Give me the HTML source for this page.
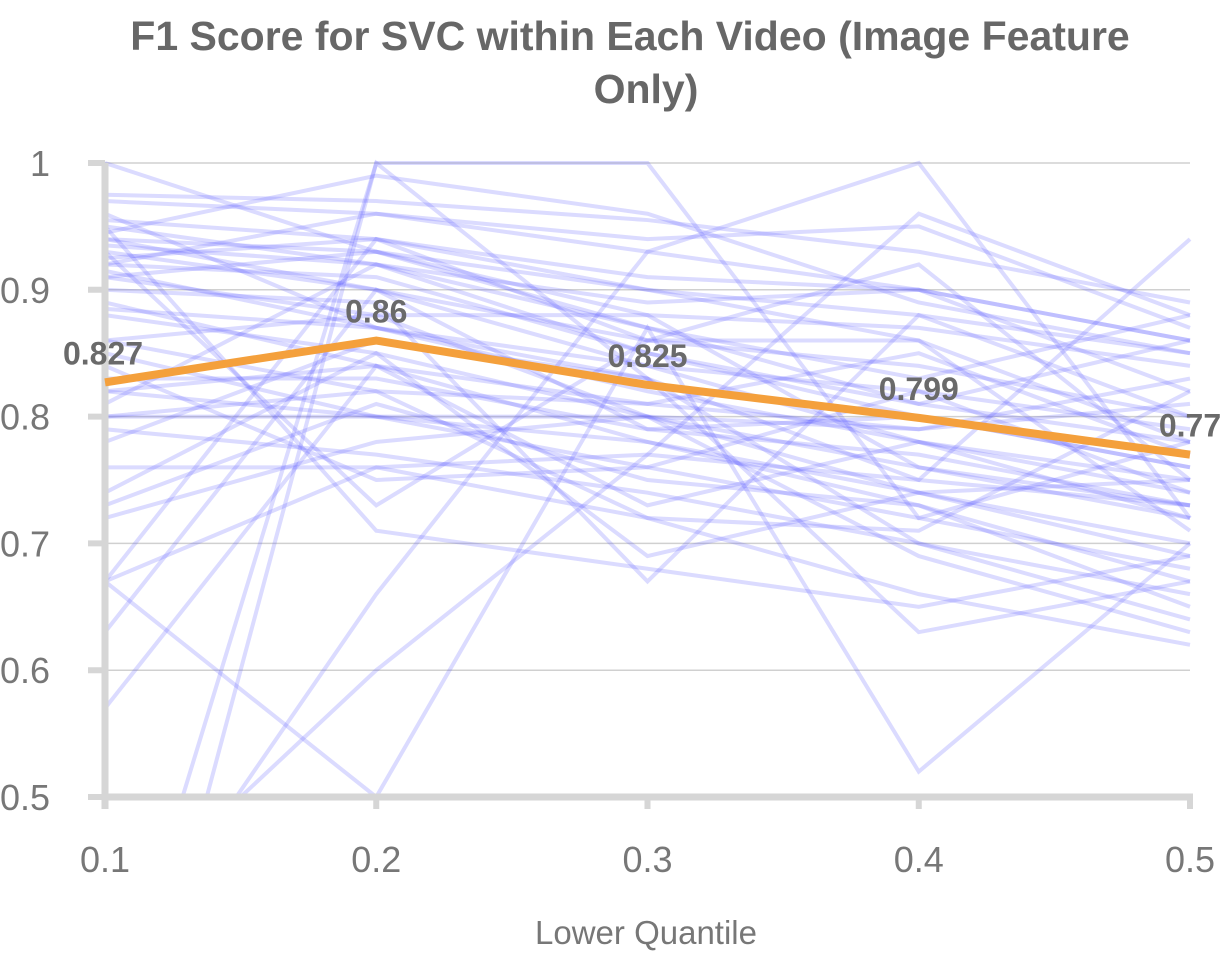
<!DOCTYPE html>
<html><head><meta charset="utf-8">
<style>
html,body{margin:0;padding:0;background:#fff;width:1224px;height:956px;overflow:hidden;}
svg{display:block;}
svg text{font-family:"Liberation Sans Narrow","Liberation Sans",sans-serif;}
</style></head>
<body>
<svg id="chart" width="1224" height="956">
<text x="630" y="50" text-anchor="middle" font-size="41" font-weight="bold" fill="#676767">F1 Score for SVC within Each Video (Image Feature</text>
<text x="646" y="103" text-anchor="middle" font-size="41" font-weight="bold" fill="#676767">Only)</text>
<text x="646" y="944" text-anchor="middle" font-size="33" fill="#777">Lower Quantile</text>
<defs><clipPath id="plot"><rect x="103" y="150" width="1120" height="647"/></clipPath></defs>
<g id="grid"></g>
<g id="lines" clip-path="url(#plot)"></g>
<g id="axes"></g>
<g id="avg"></g>
</svg>
<script>
const categories=[0.1,0.2,0.3,0.4,0.5];
const yTicks=[0.5,0.6,0.7,0.8,0.9,1];
const yTickLabels=["0.5","0.6","0.7","0.8","0.9","1"];
const averageValues=[0.827,0.86,0.825,0.799,0.77];
const averageLabels=["0.827","0.86","0.825","0.799","0.77"];
const s01=[1.0,0.93,0.90,0.88,0.85];
const s02=[0.975,0.97,0.955,0.93,0.89];
const s03=[0.97,0.96,0.94,0.95,0.87];
const s04=[0.955,0.94,0.91,0.90,0.86];
const s05=[0.945,0.99,0.96,0.89,0.85];
const s06=[0.94,0.93,0.88,0.87,0.84];
const s07=[0.935,0.92,0.89,0.90,0.82];
const s08=[0.93,0.90,0.86,0.84,0.80];
const s09=[0.925,0.94,0.90,0.86,0.78];
const s10=[0.92,0.91,0.85,0.80,0.76];
const s11=[0.915,0.87,0.84,0.82,0.74];
const s12=[0.91,0.93,0.87,0.83,0.88];
const s13=[0.885,0.87,0.82,0.78,0.75];
const s14=[0.88,0.85,0.80,0.76,0.72];
const s15=[0.86,0.82,0.81,0.79,0.83];
const s16=[0.85,0.80,0.78,0.74,0.70];
const s17=[0.83,0.83,0.79,0.77,0.73];
const s18=[0.82,0.80,0.76,0.72,0.68];
const s19=[0.81,0.92,0.85,0.81,0.86];
const s20=[0.80,0.80,0.80,0.79,0.81];
const s21=[0.79,0.77,0.74,0.70,0.66];
const s22=[0.78,0.86,0.83,0.75,0.94];
const s23=[0.76,0.76,0.77,0.75,0.73];
const s24=[0.74,0.85,0.69,0.74,0.75];
const s25=[0.73,0.81,0.75,0.73,0.65];
const s26=[0.72,0.78,0.80,0.69,0.63];
const s27=[0.67,0.76,0.72,0.66,0.62];
const s28=[0.67,0.94,0.86,0.86,0.71];
const s29=[0.63,0.90,0.79,0.80,0.76];
const s30=[0.57,0.84,0.73,0.78,0.74];
const s31=[0.67,0.50,0.87,0.52,0.70];
const s32=[0.30,1.0,0.83,0.63,0.67];
const s33=[0.20,1.0,1.0,0.72,0.78];
const s34=[0.40,0.60,0.77,0.96,0.88];
const s35=[0.35,0.66,0.93,1.0,0.72];
const s36=[0.95,0.71,0.68,0.65,0.69];
const s37=[0.93,0.73,0.86,0.92,0.75];
const s38=[0.96,0.87,0.83,0.70,0.64];
const s39=[0.90,0.89,0.67,0.88,0.80];
const s40=[0.84,0.75,0.76,0.82,0.79];
const s41=[0.80,0.82,0.72,0.71,0.82];
const s42=[0.92,0.96,0.93,0.90,0.86];
const s43=[0.89,0.84,0.81,0.85,0.77];
const s44=[0.86,0.88,0.88,0.76,0.73];
const s45=[0.94,0.90,0.84,0.78,0.72];
const s46=[0.82,0.84,0.78,0.73,0.67];
const s47=[0.91,0.88,0.80,0.74,0.69];
const s48=[0.95,0.92,0.87,0.81,0.78];
const series=[s01,s02,s03,s04,s05,s06,s07,s08,s09,s10,s11,s12,s13,s14,s15,s16,s17,s18,s19,s20,s21,s22,s23,s24,s25,s26,s27,s28,s29,s30,s31,s32,s33,s34,s35,s36,s37,s38,s39,s40,s41,s42,s43,s44,s45,s46,s47,s48];

const NS="http://www.w3.org/2000/svg";
const X0=105,X1=1190,Y0=797,Y1=163;
function xScale(i){return X0+(X1-X0)*i/(categories.length-1);}
function yScale(v){return Y0-(v-0.5)/(1-0.5)*(Y0-Y1);}
function mk(tag,attrs,parent){const e=document.createElementNS(NS,tag);for(const k in attrs)e.setAttribute(k,attrs[k]);parent.appendChild(e);return e;}
const grid=document.getElementById('grid'),axes=document.getElementById('axes'),lines=document.getElementById('lines'),avg=document.getElementById('avg');
yTicks.forEach((t,i)=>{
  const y=yScale(t);
  if(t>0.5){const g=mk('line',{x1:X0,x2:X1,y1:y,y2:y,stroke:'#d0d0d0','stroke-width':1.5},grid);
  
  }
  const tk=mk('line',{x1:88,x2:X0,y1:y,y2:y,stroke:'#d6d6d6','stroke-width':6},axes);
  
  
  const tx=mk('text',{x:50,y:y+13,'text-anchor':'end','font-size':36,fill:'#777'},axes);
  tx.textContent=yTickLabels[i];
  
  
});
const ya=mk('line',{x1:X0,x2:X0,y1:Y1,y2:Y0+12,stroke:'#d6d6d6','stroke-width':7},axes);


const xa=mk('line',{x1:X0-3,x2:X1+3,y1:Y0,y2:Y0,stroke:'#d6d6d6','stroke-width':7},axes);


categories.forEach((c,i)=>{
  const x=xScale(i);
  const tk=mk('line',{x1:x,x2:x,y1:Y0,y2:Y0+12,stroke:'#d6d6d6','stroke-width':6},axes);
  
  
  const tx=mk('text',{x:x,y:872,'text-anchor':'middle','font-size':36,fill:'#777'},axes);
  tx.textContent=String(c);
  
  
});
series.forEach(s=>{
  const p=mk('polyline',{points:s.map((v,i)=>xScale(i)+','+yScale(v)).join(' '),fill:'none',stroke:'rgba(90,90,255,0.22)','stroke-width':4},lines);
  
  
});
const al=mk('polyline',{points:averageValues.map((v,i)=>xScale(i)+','+yScale(v)).join(' '),fill:'none',stroke:'#f4a03c','stroke-width':8,'stroke-linejoin':'round'},avg);


averageValues.forEach((v,i)=>{
  let x=xScale(i); if(i===0)x=103; if(i===4)x=1190;
  const t=mk('text',{x:x,y:yScale(v)-18,'text-anchor':'middle','font-size':32,'font-weight':'bold',fill:'#6a6a6a'},avg);
  t.textContent=averageLabels[i];
  
  
});
</script>
</body></html>
